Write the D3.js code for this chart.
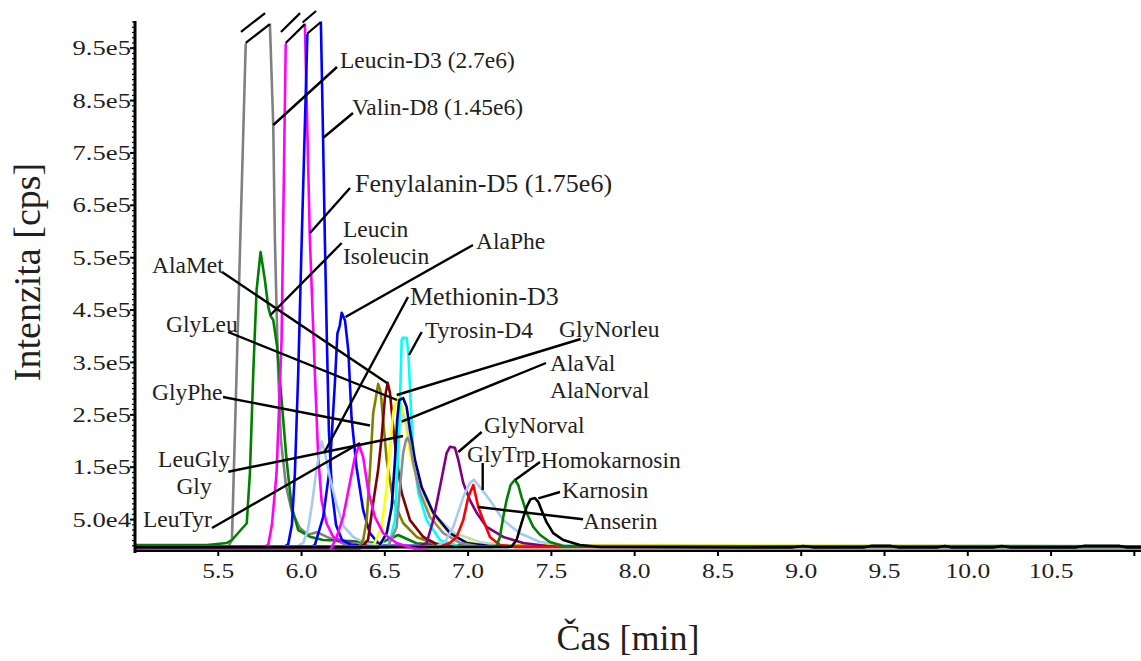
<!DOCTYPE html>
<html>
<head>
<meta charset="utf-8">
<script src="https://cdn.jsdelivr.net/npm/d3@7"></script>
<style>
  body { margin: 0; background: #fff; }
  svg { display: block; }
  text { font-family: "Liberation Serif", "Times New Roman", serif; fill: #231f20; }
</style>
</head>
<body>
<svg id="chart" width="1141" height="661"></svg>
<script>
// ---- Chromatogram traces: [time (min), intensity (cps)] ----
const leucinD3 = [[5.00,-3000],[5.558,-3000],[5.582,11000],[5.665,960000],[5.74,2700000],[5.81,996000],[5.83,803000],[5.84,584000],[5.859,336000],[5.876,202000],[5.906,116000],[5.942,65000],[5.99,34000],[6.038,21000],[6.092,26000],[6.152,17000],[6.272,1500],[6.35,-2300],[8.0,-2500],[11.04,-2500]];
const leucinIsoleucin = [[5.00,1500],[5.432,1500],[5.552,5300],[5.582,11000],[5.671,43000],[5.69,139000],[5.71,330000],[5.73,488000],[5.754,561000],[5.78,507000],[5.80,456000],[5.815,438000],[5.83,431000],[5.852,383000],[5.88,279000],[5.91,164000],[5.94,75000],[5.98,30000],[6.05,17400],[6.13,11000],[6.29,9200],[6.47,4800],[6.58,20600],[6.69,4800],[6.83,1500],[7.19,-400],[11.04,-800]];
const fenylalaninD5 = [[5.00,-2000],[5.78,-1000],[5.80,1500],[5.822,40000],[5.85,139000],[5.88,392000],[5.905,960000],[5.96,1750000],[6.02,996000],[6.05,584000],[6.08,329000],[6.10,170000],[6.12,87000],[6.15,43000],[6.19,17000],[6.25,7800],[6.35,1500],[7.0,-1500],[11.04,-1500]];
const valinD8 = [[5.00,-1500],[5.90,-1300],[5.92,3400],[5.942,40000],[5.96,139000],[5.98,330000],[6.001,584000],[6.035,978000],[6.07,1450000],[6.116,1000000],[6.128,799000],[6.14,584000],[6.152,393000],[6.164,221000],[6.182,106000],[6.207,39700],[6.243,11000],[6.302,1500],[7.0,-1500],[11.04,-1500]];
const alaPhe = [[5.00,-2500],[6.06,-2000],[6.08,1500],[6.13,55000],[6.17,150000],[6.20,310000],[6.215,405000],[6.229,420000],[6.241,445000],[6.261,430000],[6.281,372000],[6.30,245000],[6.33,150000],[6.37,68000],[6.41,24000],[6.47,1500],[6.6,-2000],[11.04,-2000]];
const methioninD3 = [[5.00,-2300],[5.978,-400],[6.01,5300],[6.038,30000],[6.062,78000],[6.091,149000],[6.121,199000],[6.141,177000],[6.171,129000],[6.211,78000],[6.251,38000],[6.309,17000],[6.38,5300],[6.47,600],[7.0,-2000],[11.04,-2000]];
const leuTyr = [[5.00,-9200],[6.171,-9200],[6.211,16800],[6.25,55000],[6.29,120000],[6.32,169000],[6.346,192000],[6.37,169000],[6.40,106000],[6.44,55000],[6.49,24000],[6.57,5300],[6.67,-5000],[6.77,-9200],[11.04,-9200]];
const glyPhe = [[5.00,-4000],[6.339,-4200],[6.37,11000],[6.391,49000],[6.411,145000],[6.43,253000],[6.447,284000],[6.46,309000],[6.475,294000],[6.49,240000],[6.511,164000],[6.55,87000],[6.61,43500],[6.691,16800],[6.791,4800],[6.95,-400],[11.04,-1500]];
const alaMet = [[5.00,-5000],[6.351,-5000],[6.399,11000],[6.43,82000],[6.46,145000],[6.481,208000],[6.501,284000],[6.517,311000],[6.531,292000],[6.55,227000],[6.571,164000],[6.601,101000],[6.651,49000],[6.731,16800],[6.83,-400],[11.04,-2000]];
const glyNorleu = [[5.00,-1300],[6.43,-1300],[6.481,36000],[6.511,112000],[6.531,189000],[6.55,254000],[6.571,282000],[6.591,278000],[6.621,240000],[6.651,177000],[6.711,101000],[6.811,49000],[6.911,16800],[7.07,1500],[11.04,-1500]];
const glyLeu = [[5.00,-4200],[6.46,-4200],[6.511,24000],[6.541,74000],[6.561,164000],[6.574,240000],[6.586,278000],[6.61,282000],[6.631,265000],[6.651,221000],[6.681,164000],[6.721,112000],[6.791,63000],[6.891,24000],[6.991,5300],[7.13,-400],[11.04,-2000]];
const alaValNorval = [[5.00,-3000],[6.47,-3000],[6.52,30000],[6.555,110000],[6.58,190000],[6.60,240000],[6.611,250000],[6.63,236000],[6.655,190000],[6.711,110000],[6.80,58000],[6.92,24000],[7.07,7000],[7.25,-500],[11.04,-2000]];
const leuGlyGly = [[5.00,-2300],[6.519,-2300],[6.571,36000],[6.591,112000],[6.61,177000],[6.627,202000],[6.637,206000],[6.651,196000],[6.67,158000],[6.711,101000],[6.771,55000],[6.851,24000],[6.951,5300],[7.07,-1300],[11.04,-2500]];
const tyrosinD4 = [[5.00,-4200],[6.519,-4200],[6.561,49000],[6.58,177000],[6.591,273000],[6.601,393000],[6.607,397000],[6.631,397000],[6.641,368000],[6.655,273000],[6.671,177000],[6.701,101000],[6.751,49000],[6.831,11000],[6.951,-1300],[11.04,-3000]];
const glyNorval = [[5.00,-2000],[6.711,-400],[6.751,5300],[6.791,49000],[6.831,112000],[6.871,177000],[6.891,189000],[6.921,187000],[6.941,164000],[6.971,120000],[7.011,87000],[7.051,63000],[7.111,36000],[7.211,16800],[7.331,5300],[7.471,-400],[11.04,-2000]];
const glyTrp = [[5.00,-2000],[6.807,-1300],[6.861,7300],[6.911,36000],[6.971,93000],[7.011,120000],[7.035,126000],[7.071,112000],[7.131,87000],[7.211,49000],[7.311,24000],[7.431,7300],[7.571,1500],[7.73,-1300],[11.04,-2000]];
const anserin = [[5.00,-2300],[6.831,-2300],[6.891,5300],[6.931,16800],[6.971,49000],[7.001,93000],[7.031,116000],[7.061,74000],[7.091,49000],[7.131,16800],[7.191,1500],[7.28,-2300],[11.04,-2300]];
const homokarnosin = [[5.00,-1500],[7.143,-2300],[7.171,-400],[7.191,16800],[7.211,55000],[7.231,87000],[7.255,116000],[7.281,126000],[7.301,116000],[7.321,93000],[7.351,63000],[7.391,36000],[7.431,21000],[7.491,7300],[7.571,-400],[8.0,-1000],[11.04,-1000]];
const karnosin = [[5.00,-2300],[7.239,-2300],[7.261,-1300],[7.291,11000],[7.321,43500],[7.351,74000],[7.375,89000],[7.401,91000],[7.421,84000],[7.441,68000],[7.471,45000],[7.511,24000],[7.571,11000],[7.671,1500],[7.79,-2300],[8.66,-3200],[8.95,-3000],[9.013,-300],[9.07,-3000],[9.38,-3000],[9.418,-300],[9.538,-300],[9.58,-3000],[9.82,-3000],[9.862,-300],[9.90,-3000],[10.16,-3000],[10.204,-300],[10.25,-3000],[10.65,-3000],[10.696,-300],[10.912,-300],[10.95,-3000],[11.04,-3000]];

// Peak labels (one entry per annotation, lines of text)
const peakLabels = [
  ["Leucin-D3 (2.7e6)"], ["Valin-D8 (1.45e6)"], ["Fenylalanin-D5 (1.75e6)"],
  ["Leucin", "Isoleucin"], ["AlaPhe"], ["AlaMet"], ["Methionin-D3"], ["GlyLeu"],
  ["Tyrosin-D4"], ["GlyNorleu"], ["AlaVal", "AlaNorval"], ["GlyPhe"], ["GlyNorval"],
  ["GlyTrp"], ["Homokarnosin"], ["Karnosin"], ["Anserin"], ["LeuGly", "Gly"], ["LeuTyr"]
];

// Axis ticks
const xTickValues = [5.5, 6.0, 6.5, 7.0, 7.5, 8.0, 8.5, 9.0, 9.5, 10.0, 10.5, 11.0];
const xTickLabels = ["5.5", "6.0", "6.5", "7.0", "7.5", "8.0", "8.5", "9.0", "9.5", "10.0", "10.5", ""];
const yTickValues = [50000, 150000, 250000, 350000, 450000, 550000, 650000, 750000, 850000, 950000];
const yTickLabels = ["5.0e4", "1.5e5", "2.5e5", "3.5e5", "4.5e5", "5.5e5", "6.5e5", "7.5e5", "8.5e5", "9.5e5"];

// ---- drawing ----
const svg = d3.select("#chart");
const x = d3.scaleLinear().domain([5.0, 11.04]).range([135, 1141]);
const y = d3.scaleLinear().domain([-10000, 1000000]).range([551, 22]);

// traces, in drawing order, with their colours
const traces = [
  { data: leucinD3, color: "#808080", broken: true },
  { data: leucinIsoleucin, color: "#008000" },
  { data: fenylalaninD5, color: "#ff00ff", broken: true },
  { data: valinD8, color: "#0000ff", broken: true },
  { data: alaPhe, color: "#0000ff" },
  { data: methioninD3, color: "#a6caf0" },
  { data: glyPhe, color: "#808000" },
  { data: alaMet, color: "#800000" },
  { data: glyNorleu, color: "#ffff00" },
  { data: alaValNorval, color: "#c0dcc0" },
  { data: tyrosinD4, color: "#00ffff" },
  { data: glyLeu, color: "#000080" },
  { data: leuGlyGly, color: "#8c8c8c" },
  { data: glyNorval, color: "#800080" },
  { data: glyTrp, color: "#a6caf0" },
  { data: anserin, color: "#ff0000" },
  { data: homokarnosin, color: "#008000" },
  { data: karnosin, color: "#000000" },
  { data: leuTyr, color: "#ff00ff" }
];

const defs = svg.append("defs");
defs.append("clipPath").attr("id", "plot-clip")
  .append("rect").attr("x", 136).attr("y", 0).attr("width", 1141 - 136).attr("height", 554);

// x axis line sits underneath the traces
const axisG = svg.append("g");
axisG.append("line").attr("x1", 134).attr("x2", 1141).attr("y1", y(-10000)).attr("y2", y(-10000))
  .attr("stroke", "#000").attr("stroke-width", 2);

const line = d3.line().x(d => x(d[0])).y(d => y(d[1]));
const plot = svg.append("g").attr("clip-path", "url(#plot-clip)");

// off-scale peaks are cut along a slanted break between the two points flanking the apex
const breaks = [];
traces.forEach((tr, i) => {
  let clip = "url(#plot-clip)";
  if (tr.broken) {
    const apex = d3.maxIndex(tr.data, d => d[1]);
    const a = tr.data[apex - 1], b = tr.data[apex + 1];
    const ax = x(a[0]), ay = y(a[1]), bx = x(b[0]), by = y(b[1]);
    const m = (by - ay) / (bx - ax), pad = 5;
    const poly = [[136, 0], [ax - pad, 0], [ax - pad, ay - pad * m], [bx + pad, by + pad * m],
                  [bx + pad, 0], [1141, 0], [1141, 554], [136, 554]];
    defs.append("clipPath").attr("id", "cut-" + i)
      .append("polygon").attr("points", poly.map(p => p.join(",")).join(" "));
    clip = "url(#cut-" + i + ")";
    breaks.push([ax, ay, bx, by]);
  }
  plot.append("g").attr("clip-path", clip)
    .append("path").datum(tr.data)
    .attr("d", line)
    .attr("fill", "none")
    .attr("stroke", tr.color)
    .attr("stroke-width", 2.6)
    .attr("stroke-linejoin", "round");
});

// break marks: double slash on each cut peak
breaks.forEach(([ax, ay, bx, by]) => {
  [[0, 0], [-4.8, -11]].forEach(([dx, dy]) => {
    svg.append("line")
      .attr("x1", ax + dx).attr("y1", ay + dy).attr("x2", bx + dx).attr("y2", by + dy)
      .attr("stroke", "#000").attr("stroke-width", 2.2);
  });
});

// ---- y axis ----
axisG.raise();
axisG.append("line").attr("x1", 135).attr("x2", 135).attr("y1", 21).attr("y2", 553)
  .attr("stroke", "#000").attr("stroke-width", 3);

// y minor ticks every 1e4
d3.range(0, 1000001, 10000).forEach(v => {
  axisG.append("line").attr("x1", 132).attr("x2", 135).attr("y1", y(v)).attr("y2", y(v))
    .attr("stroke", "#000").attr("stroke-width", 1.2);
});
yTickValues.forEach((v, i) => {
  axisG.append("line").attr("x1", 130).attr("x2", 135).attr("y1", y(v)).attr("y2", y(v))
    .attr("stroke", "#000").attr("stroke-width", 2);
  axisG.append("text")
    .attr("transform", `translate(131,${y(v)}) scale(1.3,1)`)
    .attr("text-anchor", "end").attr("dy", "0.35em")
    .attr("font-size", 20.5).text(yTickLabels[i]);
});
xTickValues.forEach((v, i) => {
  axisG.append("line").attr("x1", x(v)).attr("x2", x(v)).attr("y1", 552).attr("y2", 556)
    .attr("stroke", "#000").attr("stroke-width", 2);
  axisG.append("text")
    .attr("transform", `translate(${x(v)},578) scale(1.28,1)`)
    .attr("text-anchor", "middle")
    .attr("font-size", 20).text(xTickLabels[i]);
});

svg.append("text").attr("x", 628).attr("y", 650).attr("text-anchor", "middle")
  .attr("font-size", 36).text("Čas [min]");
svg.append("text").attr("transform", "translate(40,272) rotate(-90)").attr("text-anchor", "middle")
  .attr("font-size", 38).text("Intenzita [cps]");

// ---- peak annotations: text position, font size, leader from -> to ----
const layout = [
  { x: 340, y: 68, s: 23.5, from: [337, 67], to: [273.3, 125] },
  { x: 352, y: 115, s: 23.5, from: [353, 113], to: [323, 138] },
  { x: 355, y: 192, s: 26, from: [350, 188], to: [310, 233] },
  { x: 343, y: 237, s: 23.5, lh: 26.5, from: [341.7, 243], to: [270.5, 315] },
  { x: 476, y: 249, s: 23.5, from: [473, 245], to: [345.5, 317] },
  { x: 152, y: 273, s: 23.5, from: [222, 272], to: [387, 383] },
  { x: 410, y: 305, s: 26, from: [408, 297], to: [324, 453] },
  { x: 166, y: 332, s: 23.5, from: [228, 332], to: [397, 400] },
  { x: 425, y: 338, s: 23.5, from: [421.7, 332], to: [409, 355] },
  { x: 559, y: 337, s: 23.5, from: [580.7, 339], to: [396.7, 395] },
  { x: 550, y: 371, s: 23.5, lh: 26.5, from: [546, 363], to: [401.7, 421.7] },
  { x: 152, y: 400, s: 23.5, from: [223, 397], to: [370, 425.5] },
  { x: 484, y: 433, s: 23.5, from: [481.7, 432], to: [458.3, 452] },
  { x: 467, y: 462, s: 23.5, from: [482.7, 463], to: [482.7, 490] },
  { x: 541, y: 468, s: 23.5, from: [540, 462], to: [515, 480] },
  { x: 562, y: 498, s: 23.5, from: [560, 492], to: [538.3, 498.3] },
  { x: 583, y: 529, s: 23.5, from: [583, 519.3], to: [478.3, 507] },
  { x: 194, y: 467, s: 23.5, lh: 26.5, anchor: "middle", from: [228.3, 471.7], to: [403, 436] },
  { x: 143, y: 527, s: 23.5, from: [212, 528], to: [360, 443] }
];

const ann = svg.append("g");
peakLabels.forEach((lines, i) => {
  const L = layout[i];
  ann.append("line")
    .attr("x1", L.from[0]).attr("y1", L.from[1]).attr("x2", L.to[0]).attr("y2", L.to[1])
    .attr("stroke", "#000").attr("stroke-width", 2.4);
  lines.forEach((t, k) => {
    ann.append("text").attr("x", L.x).attr("y", L.y + k * (L.lh || 0))
      .attr("text-anchor", L.anchor || "start")
      .attr("font-size", L.s).text(t);
  });
});
</script>
</body>
</html>
